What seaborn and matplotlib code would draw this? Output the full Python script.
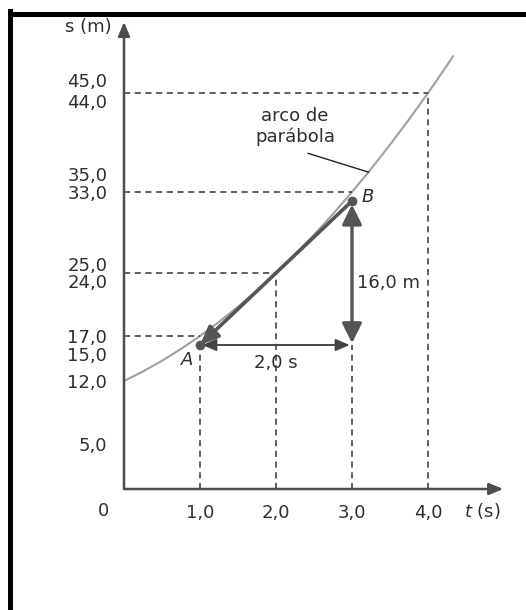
import matplotlib as mpl
mpl.use("Agg")
import matplotlib.pyplot as plt
import matplotlib.transforms as mtransforms
from matplotlib.lines import Line2D
import seaborn as sns
import pandas as pd

# curve s(t)
t_curve = [0.0, 0.25, 0.5, 0.75, 1.0, 1.25, 1.5, 1.75, 2.0, 2.25, 2.5, 2.75,
           3.0, 3.25, 3.5, 3.75, 4.0, 4.25, 4.33]
s_curve = [12.0, 13.06, 14.25, 15.56, 17.0, 18.56, 20.25, 22.06, 24.0, 26.06, 28.25, 30.56,
           33.0, 35.56, 38.25, 41.06, 44.0, 47.06, 48.1]

# dashed guides: (t, s) where they meet the curve
t_marks = [1.0, 2.0, 3.0, 4.0]
s_marks = [17.0, 24.0, 33.0, 44.0]
v_tops = [16.0, 24.0, 16.0, 44.0]   # vertical dashed lines end here

# tangent points
A = (1.0, 16.0)
B = (3.0, 32.0)

x_ticks = [1.0, 2.0, 3.0, 4.0]
x_labels = ['1,0', '2,0', '3,0', '4,0']
y_ticks = [5.0, 12.0, 15.0, 17.0, 24.0, 25.0, 33.0, 35.0, 44.0, 45.0]
y_labels = ['5,0', '12,0', '15,0', '17,0', '24,0', '25,0', '33,0', '35,0', '44,0', '45,0']

sns.set_style('white')
plt.rcParams['font.family'] = ['DejaVu Sans']
txt = '#2e2e2e'
axc = '#4d4d4d'
fs = 13

W, H = 526, 610
fig = plt.figure(figsize=(W / 100, H / 100), dpi=100)
ax = fig.add_axes([124 / W, (H - 489) / H, 380 / W, 468 / H])
ax.set_xlim(0, 5)
ax.set_ylim(0, 52)
for sp in ax.spines.values():
    sp.set_visible(False)

df = pd.DataFrame({'t': t_curve, 's': s_curve})
sns.lineplot(data=df, x='t', y='s', ax=ax, color='#a0a0a0', lw=1.5, sort=True)
ax.set_xlabel('')
ax.set_ylabel('')

# dashed guides
dash = dict(color='#333333', lw=1.1, ls=(0, (4, 3)))
for t, s, top in zip(t_marks, s_marks, v_tops):
    ax.plot([0, t], [s, s], **dash)
    ax.plot([t, t], [0, top], **dash)

# axes with arrows
ax.annotate('', xy=(4.99, 0), xytext=(0, 0),
            arrowprops=dict(arrowstyle='-|>,head_length=0.6,head_width=0.25', mutation_scale=14,
                            lw=1.8, color=axc, shrinkA=0, shrinkB=0), annotation_clip=False)
ax.annotate('', xy=(0, 51.9), xytext=(0, 0),
            arrowprops=dict(arrowstyle='-|>,head_length=0.6,head_width=0.25', mutation_scale=14,
                            lw=1.8, color=axc, shrinkA=0, shrinkB=0), annotation_clip=False)

# ticks
ax.set_xticks(x_ticks, x_labels)
ax.set_yticks(y_ticks, y_labels)
ax.tick_params(axis='both', direction='out', color=axc, width=1.3, labelsize=fs, labelcolor=txt)
ax.tick_params(axis='y', length=6, pad=6)
ax.tick_params(axis='x', length=5, pad=6)
for lab, val in zip(ax.get_yticklabels(), y_ticks):
    if val in (44.0, 24.0):
        lab.set_transform(lab.get_transform() + mtransforms.ScaledTranslation(0, -6 / 72, fig.dpi_scale_trans))
    if val == 45.0:
        lab.set_transform(lab.get_transform() + mtransforms.ScaledTranslation(0, 3 / 72, fig.dpi_scale_trans))

# tangent arrow B -> A
ax.annotate('', xy=A, xytext=B,
            arrowprops=dict(arrowstyle='-|>,head_length=0.7,head_width=0.3', mutation_scale=16,
                            lw=2.6, color='#555555', shrinkA=0, shrinkB=0))
# vertical 16,0 m arrow
ax.annotate('', xy=(3.0, 16.2), xytext=(3.0, 31.6),
            arrowprops=dict(arrowstyle='<|-|>,head_length=0.6,head_width=0.3', mutation_scale=20,
                            lw=2.4, color='#555555', shrinkA=0, shrinkB=0))
# horizontal 2,0 s arrow
ax.annotate('', xy=(2.97, 16.0), xytext=(1.03, 16.0),
            arrowprops=dict(arrowstyle='<|-|>,head_length=0.7,head_width=0.3', mutation_scale=12,
                            lw=1.4, color='#444444', shrinkA=0, shrinkB=0))
ax.plot([A[0], B[0]], [A[1], B[1]], 'o', color='#555555', ms=6, zorder=5)

# labels
ax.text(-0.16, 51.3, 's (m)', ha='right', va='center', fontsize=fs, color=txt, clip_on=False)
ax.text(4.72, -2.4, '$t$ (s)', ha='center', va='center', fontsize=fs, color=txt, clip_on=False)
ax.text(-0.27, -2.4, '0', ha='center', va='center', fontsize=fs, color=txt, clip_on=False)
ax.text(2.25, 40.3, 'arco de\nparábola', ha='center', va='center', fontsize=fs, color=txt,
        linespacing=1.15)
ax.plot([2.42, 3.22], [37.3, 35.2], color='#222222', lw=1.0)
ax.text(0.83, 14.3, 'A', ha='center', va='center', fontsize=fs, color=txt, style='italic')
ax.text(3.21, 32.4, 'B', ha='center', va='center', fontsize=fs, color=txt, style='italic')
ax.text(2.0, 14.0, '2,0 s', ha='center', va='center', fontsize=fs, color=txt)
ax.text(3.07, 22.9, '16,0 m', ha='left', va='center', fontsize=fs, color=txt)

# page frame (left and top edges)
fig.add_artist(Line2D([10 / W, 10 / W], [0, 1 - 11 / H], transform=fig.transFigure,
                      color='black', lw=3.6, solid_capstyle='projecting'))
fig.add_artist(Line2D([10 / W, 1], [1 - 13.5 / H, 1 - 13.5 / H], transform=fig.transFigure,
                      color='black', lw=3.6, solid_capstyle='projecting'))

fig.savefig('out.png', dpi=100)
